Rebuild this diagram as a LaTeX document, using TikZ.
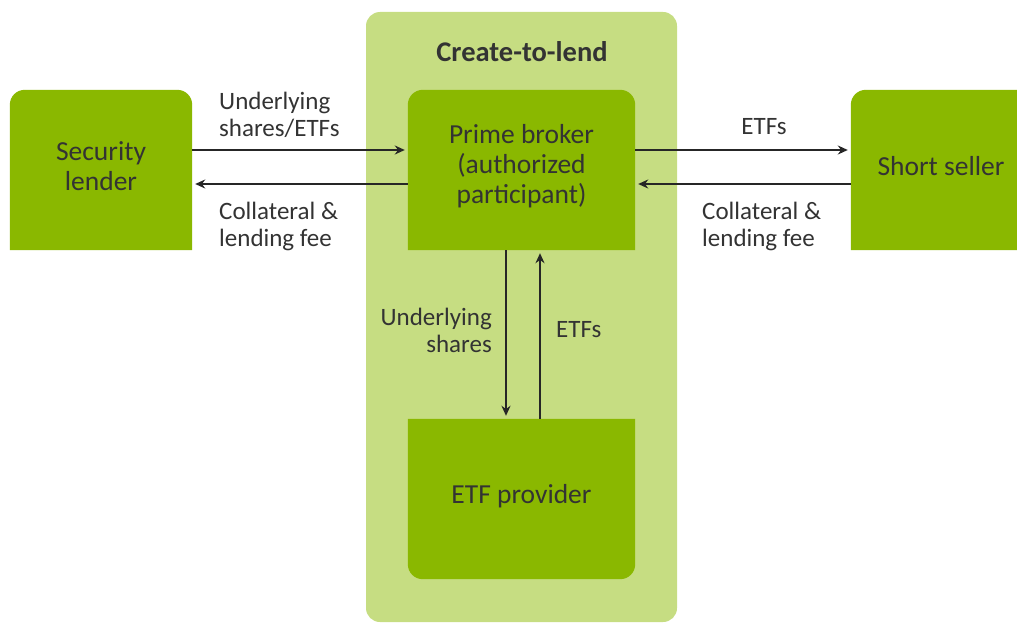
\documentclass[tikz,border=0pt]{standalone}
\usepackage{fontspec}
\setmainfont{Carlito}
\usetikzlibrary{arrows.meta,backgrounds}
\definecolor{dkgreen}{HTML}{8AB800}
\definecolor{ltgreen}{HTML}{C6DD82}
\definecolor{txt}{HTML}{333333}
\begin{document}
\begin{tikzpicture}[x=1pt,y=-1pt,
  box/.style={draw=none,minimum width=#1,minimum height=160pt,inner sep=0pt},
  boxtxt/.style={inner sep=0pt,align=center,font=\fontsize{27.5}{30}\selectfont,text=txt},
  lbl/.style={font=\fontsize{25}{27}\selectfont,text=txt,inner sep=0pt},
  arr/.style={line width=2.5pt,draw=black!85,-{Stealth[length=10pt,width=9pt]}}]
\useasboundingbox (0,0) rectangle (1017,623);
\node[box=182pt] (sl) at (101,170) {};
\node[box=227pt] (pb) at (521.5,170) {};
\node[box=166pt] (ss) at (934,170) {};
\node[box=227pt] (etf) at (521.5,499) {};
\node[boxtxt] (slt) at (101,166) {Security\\lender};
\node[boxtxt] (pbt) at (521.5,166) {Prime broker\\(authorized\\participant)};
\node[boxtxt] (sst) at (941,166) {Short seller};
\node[boxtxt] (etft) at (521.5,496) {ETF provider};
\node[font=\fontsize{28.5}{30}\selectfont\bfseries,text=txt] (title) at (522,52) {Create-to-lend};
\begin{scope}[on background layer]
\fill[ltgreen,rounded corners=14pt] (366,12) rectangle (677,622);
\fill[dkgreen] (sl.south west) [rounded corners=15pt] -- (sl.north west) -- (sl.north east) [sharp corners] -- (sl.south east) -- cycle;
\fill[dkgreen] (pb.south west) [rounded corners=15pt] -- (pb.north west) -- (pb.north east) [sharp corners] -- (pb.south east) -- cycle;
\fill[dkgreen] (ss.south west) [rounded corners=15pt] -- (ss.north west) [sharp corners] -- (ss.north east) -- (ss.south east) -- cycle;
\fill[dkgreen] (etf.north west) [rounded corners=15pt] -- (etf.south west) -- (etf.south east) [sharp corners] -- (etf.north east) -- cycle;
\end{scope}
% horizontal arrows
\draw[arr,shorten >=3pt] (sl.east |- 0,150) -- (pb.west |- 0,150);
\draw[arr,shorten >=3pt] (pb.west |- 0,184) -- (sl.east |- 0,184);
\draw[arr,shorten >=3pt] (pb.east |- 0,150) -- (ss.west |- 0,150);
\draw[arr,shorten >=3pt] (ss.west |- 0,184) -- (pb.east |- 0,184);
% vertical arrows
\draw[arr,shorten >=3pt] (pb.south -| 506,0) -- (etf.north -| 506,0);
\draw[arr,shorten >=3pt] (etf.north -| 540,0) -- (pb.south -| 540,0);
% labels
\node[lbl,anchor=west,align=left] (l1) at (219,115) {Underlying\\shares/ETFs};
\node[lbl,anchor=west,align=left] (l2) at (219,226) {Collateral \&\\lending fee};
\node[lbl] (l3) at (764,127) {ETFs};
\node[lbl,anchor=west,align=left] (l4) at (702,226) {Collateral \&\\lending fee};
\node[lbl,anchor=east,align=right] (l5) at (492,330) {Underlying\\shares};
\node[lbl,anchor=west] (l6) at (556,330) {ETFs};
\end{tikzpicture}
\end{document}
